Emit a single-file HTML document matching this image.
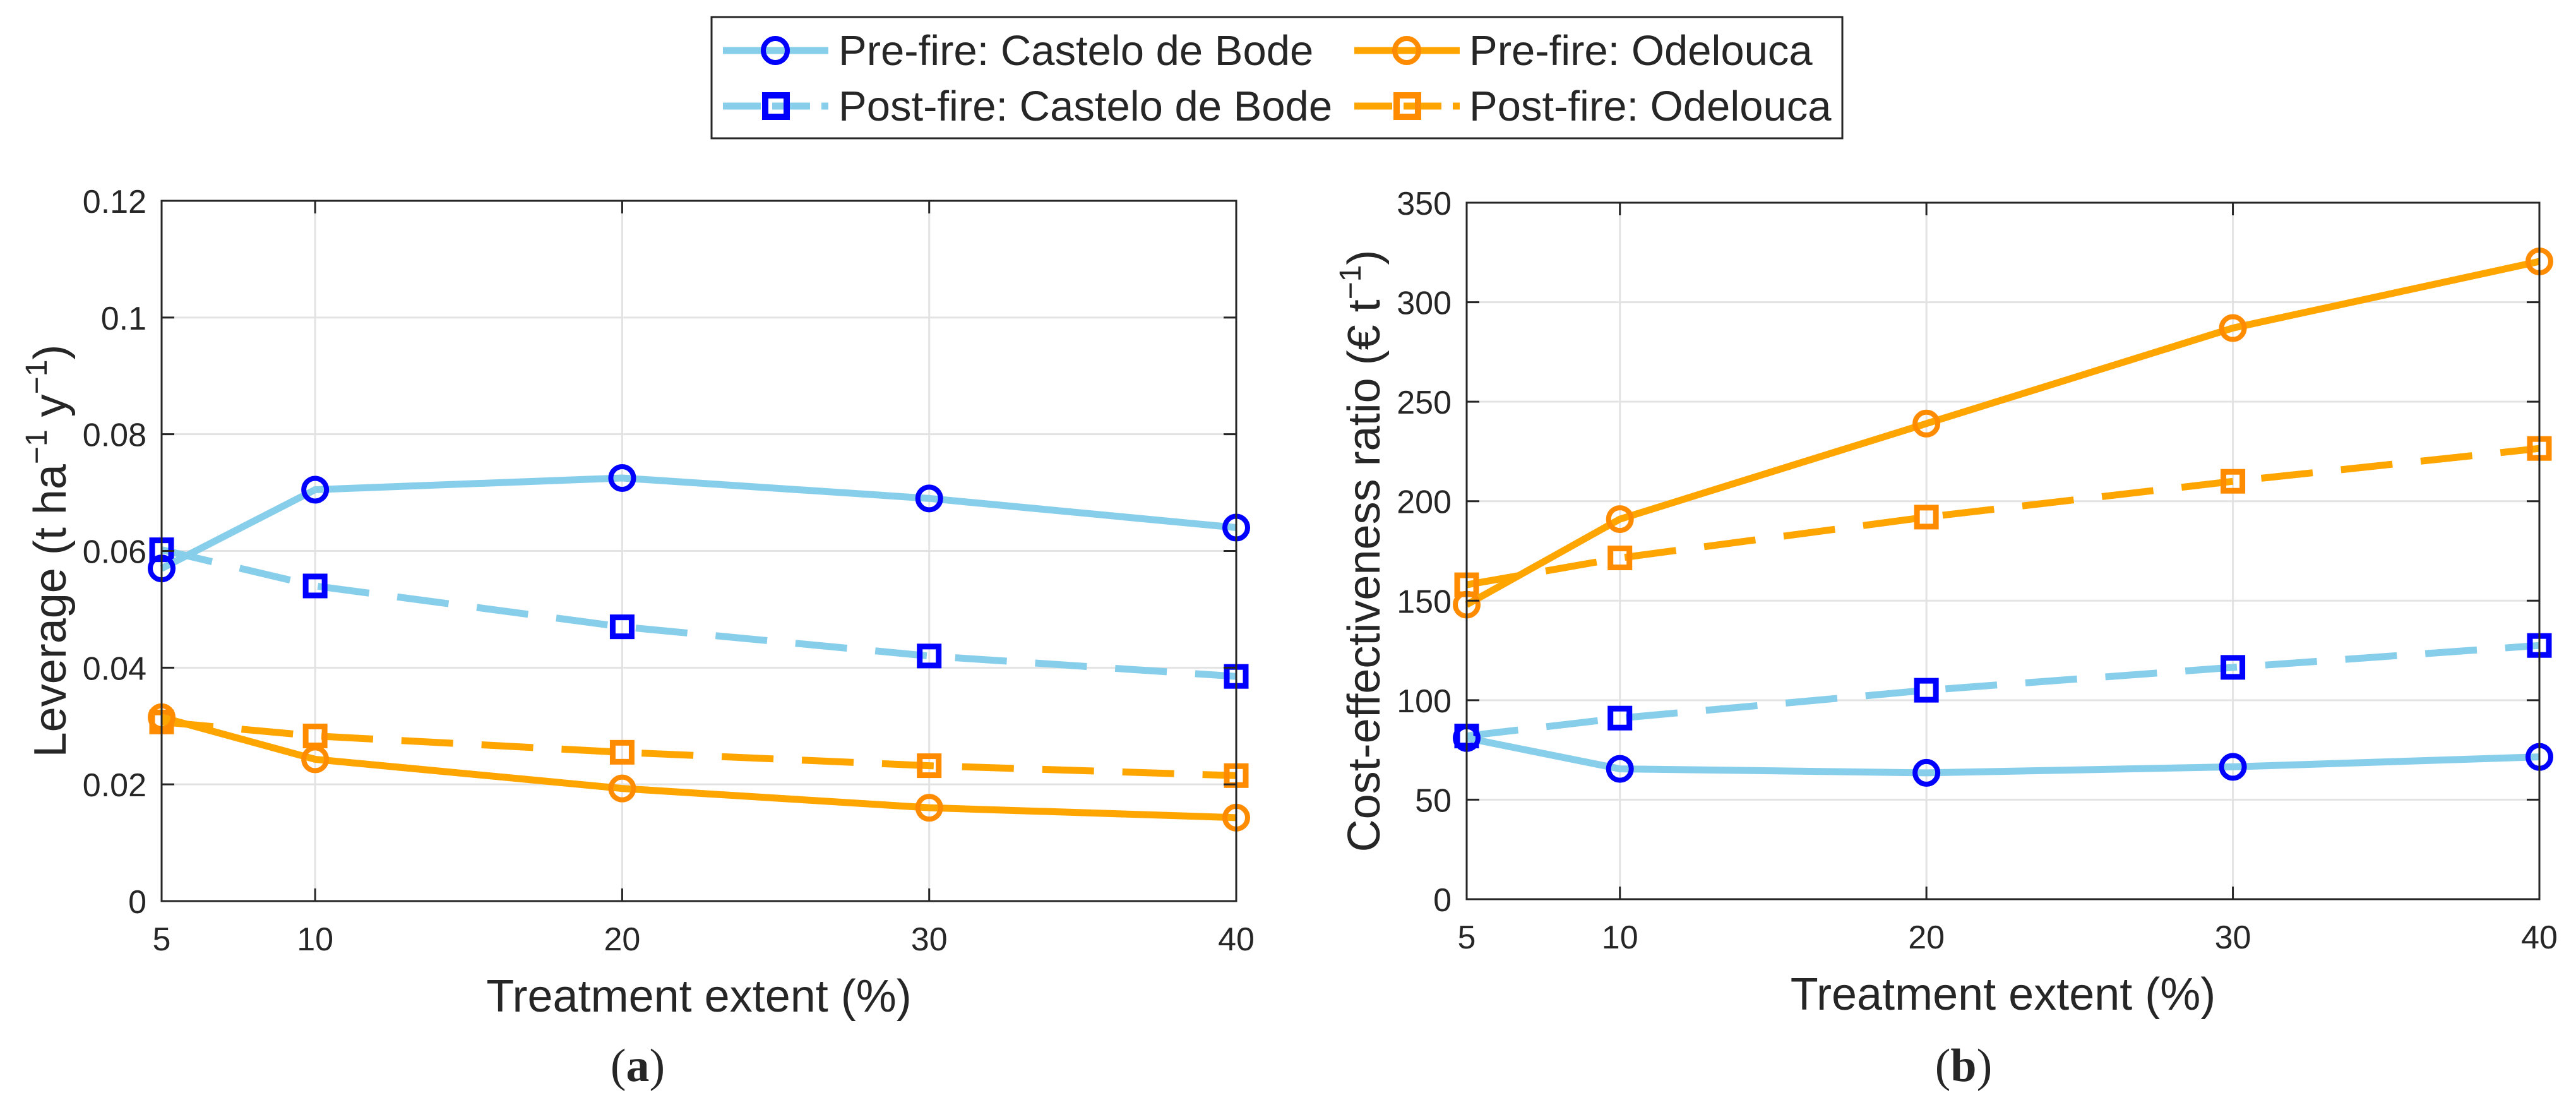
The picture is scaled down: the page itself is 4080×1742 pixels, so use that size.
<!DOCTYPE html>
<html><head><meta charset="utf-8"><style>
html,body{margin:0;padding:0;background:#fff;}
svg{display:block;}
text{font-family:"Liberation Sans",sans-serif;fill:#262626;}
</style></head><body>
<svg id="fig" width="4080" height="1742" viewBox="0 0 4080 1742" xmlns="http://www.w3.org/2000/svg">
<g>
<rect x="1127" y="27" width="1791" height="192" fill="#fff" stroke="#262626" stroke-width="3"/>
<g>
<line x1="1145" y1="80" x2="1312" y2="80" stroke="#87CEEB" stroke-width="11"/>
<circle cx="1228" cy="80" r="19" fill="none" stroke="#0000FF" stroke-width="8"/>
<text x="1328" y="103" font-size="67" fill="#000">Pre-fire: Castelo de Bode</text></g>
<g>
<line x1="1145" y1="168" x2="1312" y2="168" stroke="#87CEEB" stroke-width="11" stroke-dasharray="60,18"/>
<rect x="1212" y="151" width="34" height="34" fill="none" stroke="#0000FF" stroke-width="10"/>
<text x="1328" y="191" font-size="67" fill="#000">Post-fire: Castelo de Bode</text></g>
<g>
<line x1="2145" y1="80" x2="2312" y2="80" stroke="#FFA500" stroke-width="11"/>
<circle cx="2228" cy="80" r="19" fill="none" stroke="#FF8C00" stroke-width="8"/>
<text x="2327" y="103" font-size="67" fill="#000">Pre-fire: Odelouca</text></g>
<g>
<line x1="2145" y1="168" x2="2312" y2="168" stroke="#FFA500" stroke-width="11" stroke-dasharray="60,18"/>
<rect x="2212" y="151" width="34" height="34" fill="none" stroke="#FF8C00" stroke-width="10"/>
<text x="2327" y="191" font-size="67" fill="#000">Post-fire: Odelouca</text></g>
</g>
</svg>
<script>
const categories = [5, 10, 20, 30, 40];
const xTicks = [5, 10, 20, 30, 40];
// panel (a) leverage
const levPreCastelo = [0.057, 0.0705, 0.0725, 0.069, 0.064];
const levPostCastelo = [0.0602, 0.054, 0.047, 0.042, 0.0385];
const levPreOdelouca = [0.0315, 0.0243, 0.0193, 0.016, 0.0143];
const levPostOdelouca = [0.0307, 0.0283, 0.0255, 0.0232, 0.0215];
const levTicks = [0, 0.02, 0.04, 0.06, 0.08, 0.1, 0.12];
const levTickLabels = ["0", "0.02", "0.04", "0.06", "0.08", "0.1", "0.12"];
// panel (b) cost-effectiveness
const cerPreCastelo = [81, 65.5, 63.5, 66.5, 71.5];
const cerPostCastelo = [82, 91, 105, 116.5, 127.5];
const cerPreOdelouca = [148, 191, 239, 287, 320.5];
const cerPostOdelouca = [158, 171.5, 192, 210, 226.5];
const cerTicks = [0, 50, 100, 150, 200, 250, 300, 350];
const cerTickLabels = ["0", "50", "100", "150", "200", "250", "300", "350"];

const NS = "http://www.w3.org/2000/svg";
const svg = document.getElementById("fig");
function mk(tag, attrs, parent) {
  const e = document.createElementNS(NS, tag);
  for (const k in attrs) e.setAttribute(k, attrs[k]);
  parent.appendChild(e);
  return e;
}

function panel(opt) {
  const g = mk("g", {}, svg);
  
  
  const L = opt.left, R = opt.right, T = opt.top, B = opt.bottom;
  const xs = v => L + (v - 5) / 35 * (R - L);
  const ys = v => B - (v - opt.ymin) / (opt.ymax - opt.ymin) * (B - T);
  opt.yTicks.forEach((t, i) => {
    const y = ys(t);
    if (i > 0 && i < opt.yTicks.length - 1) {
      const gl = mk("line", {x1: L, x2: R, y1: y, y2: y, stroke: "#e3e3e3", "stroke-width": 3}, g);
      
      
    }
  });
  xTicks.forEach((t, i) => {
    const x = xs(t);
    if (i > 0 && i < xTicks.length - 1) {
      const gl = mk("line", {x1: x, x2: x, y1: T, y2: B, stroke: "#e3e3e3", "stroke-width": 3}, g);
      
      
    }
  });
  const series = [
    {d: opt.s[1], line: "#87CEEB", mk: "#0000FF", dash: true, sq: true, n: "post-castelo"},
    {d: opt.s[0], line: "#87CEEB", mk: "#0000FF", dash: false, sq: false, n: "pre-castelo"},
    {d: opt.s[3], line: "#FFA500", mk: "#FF8C00", dash: true, sq: true, n: "post-odelouca"},
    {d: opt.s[2], line: "#FFA500", mk: "#FF8C00", dash: false, sq: false, n: "pre-odelouca"}
  ];
  series.forEach(s => {
    const pts = s.d.map((v, i) => xs(categories[i]) + "," + ys(v)).join(" ");
    const pl = mk("polyline", {points: pts, fill: "none", stroke: s.line, "stroke-width": 11,
      "stroke-linejoin": "round", "stroke-dasharray": s.dash ? "82,45" : "none"}, g);
    
    
    s.d.forEach((v, i) => {
      const cx = xs(categories[i]), cy = ys(v);
      let m;
      if (s.sq) m = mk("rect", {x: cx - 15, y: cy - 15, width: 30, height: 30, fill: "none", stroke: s.mk, "stroke-width": 9}, g);
      else m = mk("circle", {cx: cx, cy: cy, r: 18, fill: "none", stroke: s.mk, "stroke-width": 8}, g);
      
      
    });
  });
  const box = mk("rect", {x: L, y: T, width: R - L, height: B - T, fill: "none", stroke: "#262626", "stroke-width": 3}, g);
  
  
  opt.yTicks.forEach((t, i) => {
    const y = ys(t);
    mk("line", {x1: L, x2: L + 20, y1: y, y2: y, stroke: "#262626", "stroke-width": 3}, g);
    mk("line", {x1: R, x2: R - 20, y1: y, y2: y, stroke: "#262626", "stroke-width": 3}, g);
    const tl = mk("text", {x: L - 24, y: y + 19, "font-size": 52, "text-anchor": "end"}, g);
    tl.textContent = opt.yLabels[i];
    
    
  });
  xTicks.forEach(t => {
    const x = xs(t);
    mk("line", {x1: x, x2: x, y1: B, y2: B - 20, stroke: "#262626", "stroke-width": 3}, g);
    mk("line", {x1: x, x2: x, y1: T, y2: T + 20, stroke: "#262626", "stroke-width": 3}, g);
    const tl = mk("text", {x: x, y: B + 78, "font-size": 52, "text-anchor": "middle"}, g);
    tl.textContent = String(t);
    
    
  });
  const xt = mk("text", {x: (L + R) / 2, y: B + 175, "font-size": 72, "text-anchor": "middle"}, g);
  xt.textContent = "Treatment extent (%)";
  
  
  const yt = mk("text", {x: 0, y: 0, "font-size": 72, "text-anchor": "middle",
    transform: "translate(" + opt.yTitleX + "," + (T + B) / 2 + ") rotate(-90)"}, g);
  yt.innerHTML = opt.yTitle;
  
  
  const cap = mk("text", {x: opt.capX, y: 1712, "font-size": 74, "text-anchor": "middle",
    style: "font-family:'Liberation Serif',serif", fill: "#000"}, g);
  cap.innerHTML = '(<tspan font-weight="bold">' + opt.cap + '</tspan>)';
  
  
}

panel({name: "panel-a-leverage", left: 256, right: 1958, top: 318, bottom: 1427, ymin: 0, ymax: 0.12,
  yTicks: levTicks, yLabels: levTickLabels,
  s: [levPreCastelo, levPostCastelo, levPreOdelouca, levPostOdelouca],
  yTitleX: 104, yTitle: 'Leverage (t ha<tspan dy="-30" font-size="48">−1</tspan><tspan dy="30"> y</tspan><tspan dy="-30" font-size="48">−1</tspan><tspan dy="30">)</tspan>',
  capX: 1010, cap: "a"});
panel({name: "panel-b-cost-effectiveness", left: 2323, right: 4022, top: 321, bottom: 1424, ymin: 0, ymax: 350,
  yTicks: cerTicks, yLabels: cerTickLabels,
  s: [cerPreCastelo, cerPostCastelo, cerPreOdelouca, cerPostOdelouca],
  yTitleX: 2185, yTitle: 'Cost-effectiveness ratio (€ t<tspan dy="-30" font-size="48">−1</tspan><tspan dy="30">)</tspan>',
  capX: 3110, cap: "b"});
</script>
</body></html>
